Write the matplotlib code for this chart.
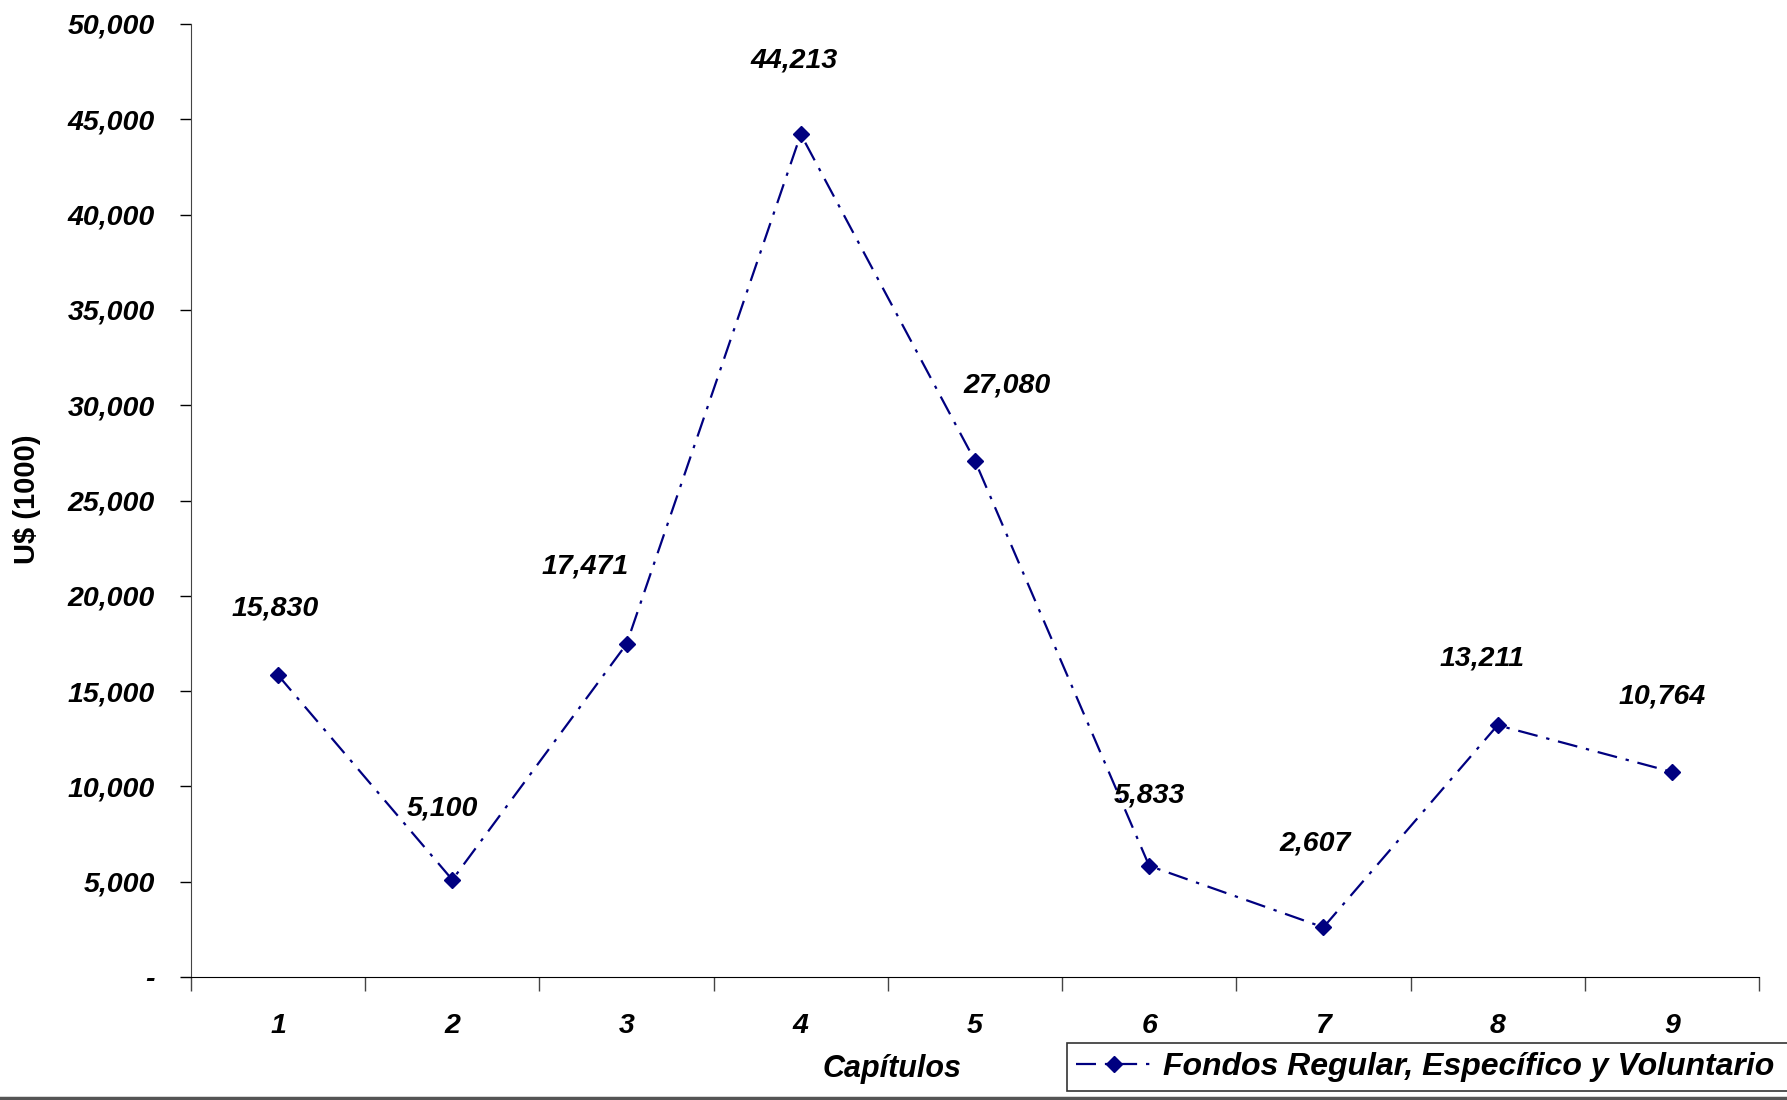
import matplotlib
matplotlib.use('Agg')
import matplotlib.pyplot as plt
from matplotlib.ticker import FuncFormatter, FixedLocator
from matplotlib.lines import Line2D

capitulos = [1, 2, 3, 4, 5, 6, 7, 8, 9]
valores = [15830, 5100, 17471, 44213, 27080, 5833, 2607, 13211, 10764]
serie = 'Fondos Regular, Específico y Voluntario'

# desplazamiento de las etiquetas (puntos)
desp = [(-2, 48), (-7, 51), (-30, 56), (-5, 53), (23, 54),
        (0, 51), (-6, 60), (-11, 48), (-7, 54)]

plt.rcParams['font.family'] = ['Liberation Sans', 'DejaVu Sans']

fig = plt.figure(figsize=(17.87, 11), dpi=100)
ax = fig.add_axes([0.1069, 0.1118, 0.8774, 0.8664])

azul = '#000080'
ax.plot(capitulos, valores, color=azul, lw=1.6, dashes=(9, 4, 1.5, 4),
        marker='D', markersize=8, markerfacecolor=azul, markeredgecolor=azul,
        label=serie)

for x, v, (dx, dy) in zip(capitulos, valores, desp):
    ax.annotate(f'{v:,}', (x, v), xytext=(dx, dy), textcoords='offset points',
                ha='center', va='center', fontsize=20.5, fontweight='bold',
                fontstyle='italic')

ax.set_xlim(0.5, 9.5)
ax.set_ylim(0, 50000)
ax.set_yticks(range(0, 50001, 5000))
ax.yaxis.set_major_formatter(FuncFormatter(lambda v, p: '-' if v == 0 else f'{int(v):,}'))
for t in ax.get_yticklabels():
    t.set_fontsize(20.5)
    t.set_fontweight('bold')
    t.set_fontstyle('italic')
ax.tick_params(axis='y', direction='out', length=8, width=1, pad=18, colors='black')

# marcas entre categorias, etiquetas en el centro
ax.xaxis.set_major_locator(FixedLocator([i + 0.5 for i in range(0, 10)]))
ax.xaxis.set_major_formatter(FuncFormatter(lambda v, p: ''))
ax.xaxis.set_minor_locator(FixedLocator(capitulos))
ax.xaxis.set_minor_formatter(FuncFormatter(lambda v, p: f'{int(round(v))}'))
ax.tick_params(axis='x', which='major', direction='out', length=10, width=1, colors='#444444')
ax.tick_params(axis='x', which='minor', length=0, pad=26, labelsize=20.5)
for t in ax.get_xticklabels(minor=True):
    t.set_fontweight('bold')
    t.set_fontstyle('italic')

ax.spines['top'].set_visible(False)
ax.spines['right'].set_visible(False)
ax.spines['left'].set_color('#444444')
ax.spines['bottom'].set_color('black')

ax.set_xlabel('Capítulos', fontsize=22, fontweight='bold', fontstyle='italic', va='center')
ax.xaxis.set_label_coords(0.447, -0.096)
ax.set_ylabel('U$ (1000)', fontsize=21, fontweight='bold', va='center')
ax.yaxis.set_label_coords(-0.1046, 0.5016)

x0 = 1067 / 1787
leg = fig.legend(loc='lower left', bbox_to_anchor=(x0, 9 / 1100, 1.02 - x0, 0),
                 mode='expand',
                 prop={'size': 23, 'weight': 'bold', 'style': 'italic'},
                 frameon=True, fancybox=False, handlelength=2.4,
                 handletextpad=0.33, borderpad=0.28, borderaxespad=0)
leg.get_frame().set_edgecolor('black')
leg.get_frame().set_linewidth(1.2)

fig.add_artist(Line2D([0, 1], [0.0018, 0.0018], transform=fig.transFigure,
                      color='#555555', lw=2.5))

fig.savefig('out.png', dpi=100, facecolor='white')
